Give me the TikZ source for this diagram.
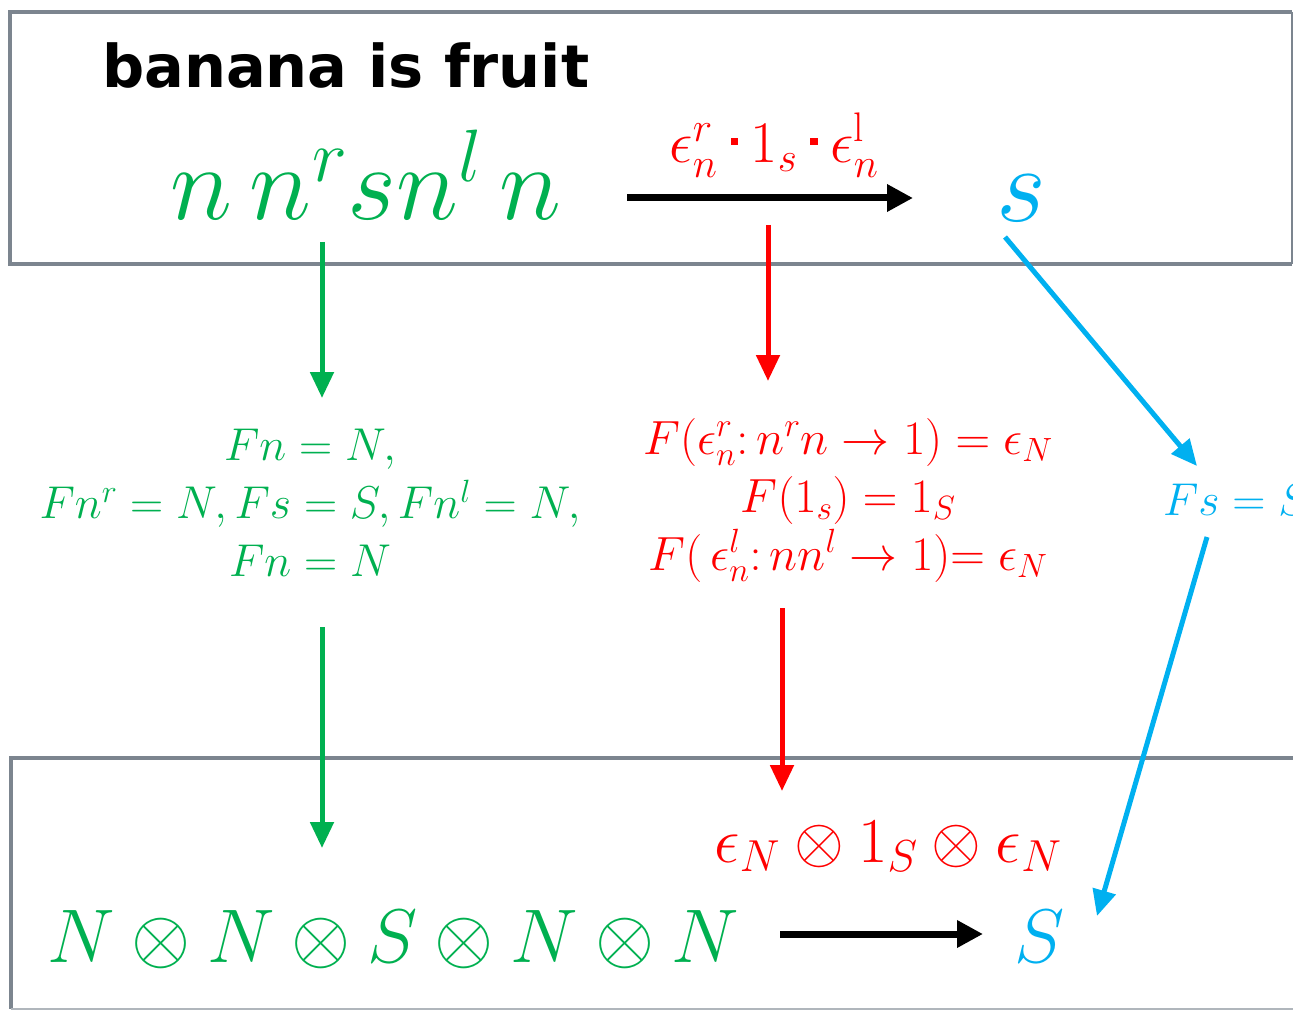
\RequirePackage{fix-cm}
\documentclass[tikz,border=0pt]{standalone}
\usepackage{fontspec}
\newfontfamily\titlefont{DejaVu Sans}
\usetikzlibrary{arrows.meta}
\definecolor{cgreen}{RGB}{0,176,80}
\definecolor{cred}{RGB}{255,0,0}
\definecolor{ccyan}{RGB}{0,176,240}
\definecolor{cgray}{RGB}{124,133,143}
\newcommand{\sqdot}{\mathbin{\rule[0.3em]{0.12em}{0.12em}}}
\begin{document}
\begin{tikzpicture}[x=1pt,y=-1pt,
  txt/.style={inner sep=0pt,outer sep=0pt},
  arr/.style={line width=5pt,-{Triangle[length=26pt,width=23pt]}},
  blackarr/.style={line width=7pt,black,-{Triangle[length=26pt,width=26pt]}},
  boxline/.style={draw=cgray,line width=4.5pt}]
\useasboundingbox (0,0) rectangle (1293,1011);
% boxes
\draw[boxline] (1292,264) -- (10,264) -- (10,12) -- (1292,12);
\draw[draw=cgray,line width=2pt] (1292,12) -- (1292,264);
\draw[boxline] (1300,758) -- (11,758) -- (11,1009);
\draw[draw=cgray!60,line width=2pt] (11,1009) -- (1300,1009);
% title
\node[txt,anchor=base west] (title) at (102,88) {\titlefont\bfseries\fontsize{59}{59}\selectfont banana is fruit};
% top expression
\node[txt,anchor=base,text=cgreen] (topexpr) at (366,220) {\fontsize{106}{106}\selectfont$n\,n^r s n^l\,n$};
\node[txt,anchor=base,text=cred] (toplab) at (774,163) {\fontsize{59}{59}\selectfont$\epsilon_n^r\sqdot 1_s\sqdot\epsilon_n^{\mathrm{l}}$};
\node[txt,anchor=base,text=ccyan] (topS) at (1021,222) {\fontsize{108}{108}\selectfont$s$};
% middle texts
\node[txt,align=center,text=cgreen,font=\fontsize{46}{58}\selectfont] (greenmid) at (310,503)
  {$Fn=N,$\\$Fn^r=N,Fs=S,Fn^l=N,$\\$Fn=N$};
\node[txt,align=center,text=cred,font=\fontsize{48}{58}\selectfont] (redmid) at (848,500)
  {$F(\epsilon_n^r{:}\,n^r n\to 1)=\epsilon_N$\\$F(1_s)=1_S$\\$F(\,\epsilon_n^l{:}\,nn^l\to 1){=}\;\epsilon_N$};
\node[txt,anchor=base west,text=ccyan,font=\fontsize{46}{46}\selectfont] (cyanmid) at (1163,515) {$Fs=S$};
% bottom
\node[txt,anchor=base,text=cred] (redbot) at (888,862) {\fontsize{64}{64}\selectfont$\epsilon_N\otimes 1_S\otimes\epsilon_N$};
\node[txt,anchor=base west,text=cgreen] (greenbot) at (47,962) {\fontsize{76}{76}\selectfont$N\otimes N\otimes S\otimes N\otimes N$};
\node[txt,anchor=base,text=ccyan] (botS) at (1040,962) {\fontsize{76}{76}\selectfont$S$};
% arrow end coordinates
\coordinate (ta1) at (627,198); \coordinate (ta2) at (913,198);
\coordinate (ba1) at (780,934); \coordinate (ba2) at (983,934);
\coordinate (g1a) at (322,242); \coordinate (g1b) at (322,398);
\coordinate (g2a) at (322,627); \coordinate (g2b) at (322,848);
\coordinate (r1a) at (768,225); \coordinate (r1b) at (768,381);
\coordinate (r2a) at (782,608); \coordinate (r2b) at (782,791);
\coordinate (c1a) at (1005,237); \coordinate (c1b) at (1197,466);
\coordinate (c2a) at (1207,537); \coordinate (c2b) at (1097,916);
% arrows
\draw[blackarr] (ta1) -- (ta2);
\draw[blackarr] (ba1) -- (ba2);
\draw[arr,cgreen] (g1a) -- (g1b);
\draw[arr,cgreen] (g2a) -- (g2b);
\draw[arr,cred] (r1a) -- (r1b);
\draw[arr,cred] (r2a) -- (r2b);
\draw[arr,ccyan] (c1a) -- (c1b);
\draw[arr,ccyan] (c2a) -- (c2b);
\end{tikzpicture}
\end{document}
